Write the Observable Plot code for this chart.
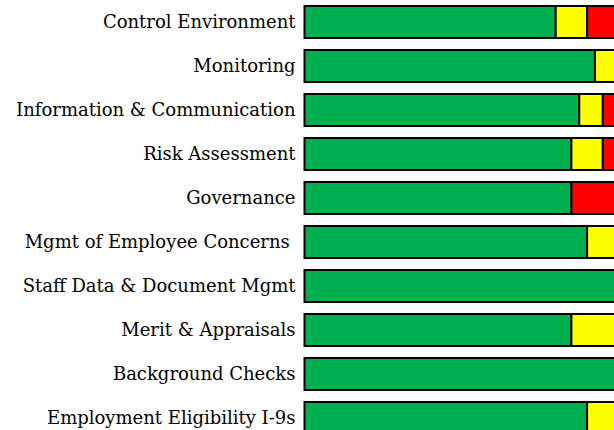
<!DOCTYPE html>
<html>
<head>
<meta charset="utf-8">
<script src="https://cdn.jsdelivr.net/npm/d3@7"></script>
<script src="https://cdn.jsdelivr.net/npm/@observablehq/plot@0.6"></script>
<style>
  html, body { margin: 0; padding: 0; background: #fff; overflow: hidden; }
  #chart svg { overflow: hidden; }
</style>
</head>
<body>
<div id="chart"></div>
<script>
const categories = [
  "Control Environment",
  "Monitoring",
  "Information & Communication",
  "Risk Assessment",
  "Governance",
  "Mgmt of Employee Concerns\u00a0",
  "Staff Data & Document Mgmt",
  "Merit & Appraisals",
  "Background Checks",
  "Employment Eligibility I-9s"
];
const statuses = ["Satisfactory", "Needs Improvement", "Unsatisfactory"];
const statusColors = ["#00B050", "#FFFF00", "#FF0000"];
const satisfactoryValues = [80, 92.5, 87.5, 85, 85, 90, 100, 85, 100, 90];
const improvementValues  = [10, 7.5, 7.5, 10, 0, 10, 0, 15, 0, 10];
const unsatisfactoryValues = [10, 0, 5, 5, 15, 0, 0, 0, 0, 0];

const series = [satisfactoryValues, improvementValues, unsatisfactoryValues];
const data = [];
categories.forEach((c, i) => {
  statuses.forEach((s, j) => {
    const v = series[j][i];
    if (v > 0) data.push({category: c, status: s, value: v});
  });
});

const chart = Plot.plot({
  width: 614,
  height: 430,
  marginLeft: 304.5,
  marginRight: -4.5,
  marginTop: 0,
  marginBottom: -10,
  style: {fontFamily: "'DejaVu Serif', serif", fontSize: "18px", color: "#000", background: "#fff"},
  x: {domain: [0, 100], axis: null},
  y: {domain: categories, paddingInner: 0.273, paddingOuter: 0.136, label: null, tickSize: 0, tickPadding: 9.5},
  color: {type: "ordinal", domain: statuses, range: statusColors},
  marks: [
    Plot.barX(data, Plot.stackX({
      x: "value",
      y: "category",
      fill: "status",
      order: statuses,
      stroke: "#000",
      strokeWidth: 2
    }))
  ]
});
document.getElementById("chart").appendChild(chart);
</script>
</body>
</html>
